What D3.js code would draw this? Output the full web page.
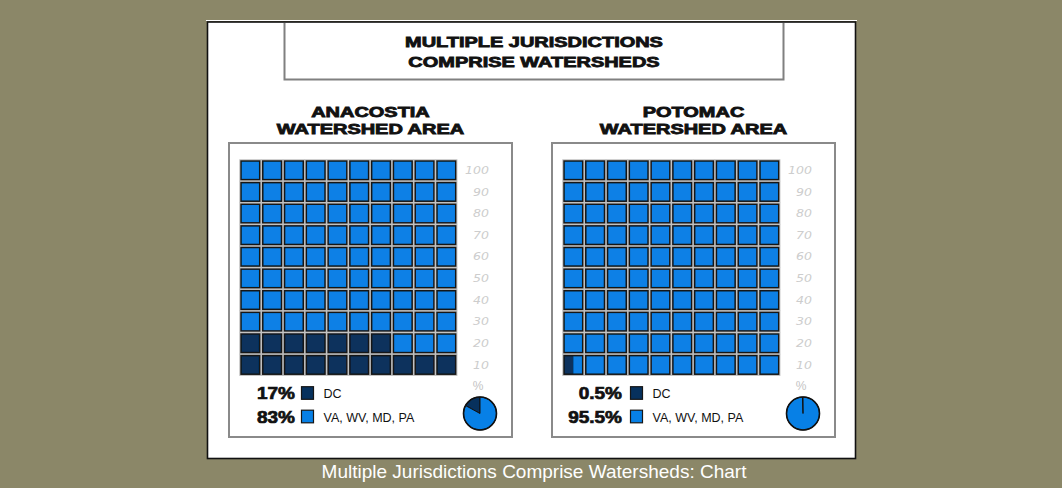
<!DOCTYPE html>
<html>
<head>
<meta charset="utf-8">
<script src="https://cdn.jsdelivr.net/npm/d3@7"></script>
<style>
  html, body { margin: 0; padding: 0; background: #8b8768; }
  svg { display: block; }
</style>
</head>
<body>
<svg id="chart" width="1062" height="488"></svg>
<script>
// Chart text
const titleLines = ["MULTIPLE JURISDICTIONS", "COMPRISE WATERSHEDS"];
const caption = "Multiple Jurisdictions Comprise Watersheds: Chart";

// One entry per watershed panel
const watershedNames = [["ANACOSTIA", "WATERSHED AREA"], ["POTOMAC", "WATERSHED AREA"]];
const dcShare = [17, 0.5];          // percent of area in DC
const otherShare = [83, 95.5];      // percent of area in VA, WV, MD, PA
const dcShareLabels = ["17%", "0.5%"];
const otherShareLabels = ["83%", "95.5%"];
const seriesNames = ["DC", "VA, WV, MD, PA"];
const tickLabels = ["10", "20", "30", "40", "50", "60", "70", "80", "90", "100"];

const colors = { dc: "#07315d", other: "#0780e6" };
const WIDEN = 1.33;   // stretch factor giving the heavy, wide display face

const svg = d3.select("#chart");
const defs = svg.append("defs");
defs.append("filter").attr("id", "soft")
  .append("feGaussianBlur").attr("stdDeviation", 0.35);

// widen bold display text horizontally
function widen(sel, factor) {
  sel.each(function () {
    const w = this.getComputedTextLength();
    d3.select(this).attr("textLength", w * factor).attr("lengthAdjust", "spacingAndGlyphs");
  });
}

// White card
svg.append("rect").attr("x", 206).attr("y", 20).attr("width", 651).attr("height", 1).attr("fill", "#fff");
svg.append("rect")
  .attr("x", 207.5).attr("y", 22).attr("width", 648).attr("height", 436.5)
  .attr("fill", "#fff").attr("stroke", "#111").attr("stroke-width", 1.6);

// Title box (open at top, flush with the card edge)
svg.append("path")
  .attr("d", "M284.5,23 V79.5 H783.5 V23")
  .attr("fill", "none").attr("stroke", "#808080").attr("stroke-width", 2);

const titleG = svg.append("g").attr("font-family", "Liberation Sans, Arial, sans-serif")
  .attr("font-weight", "bold").attr("font-size", 15).attr("fill", "#111")
  .attr("stroke", "#111").attr("stroke-width", 0.85).attr("text-anchor", "middle");
titleG.selectAll("text").data(titleLines).join("text")
  .attr("x", 534).attr("y", (d, i) => 47 + i * 19.5).text(d => d)
  .call(widen, WIDEN);

// Caption below the card
svg.append("text").attr("x", 534).attr("y", 478)
  .attr("text-anchor", "middle").attr("fill", "#fff")
  .attr("font-family", "Liberation Sans, Arial, sans-serif").attr("font-size", 19)
  .text(caption);

const panelX = [229, 552];

watershedNames.forEach((name, p) => {
  const ox = panelX[p];
  const g = svg.append("g");

  // subtitle
  g.append("g").attr("font-family", "Liberation Sans, Arial, sans-serif")
    .attr("font-weight", "bold").attr("font-size", 15).attr("fill", "#111")
    .attr("stroke", "#111").attr("stroke-width", 0.85).attr("text-anchor", "middle")
    .selectAll("text").data(name).join("text")
    .attr("x", ox + 141.5).attr("y", (d, i) => 117 + i * 17).text(d => d)
    .call(widen, WIDEN);

  // panel frame
  g.append("rect").attr("x", ox).attr("y", 143).attr("width", 283).attr("height", 294)
    .attr("fill", "#fff").attr("stroke", "#8a8a8a").attr("stroke-width", 2);

  // 10 x 10 grid of percent squares, filled from bottom-left
  const cols = d3.range(10);
  const x = d3.scaleBand().domain(cols).range([ox + 12, ox + 226.7]).paddingInner(0.14);
  const y = d3.scaleBand().domain(d3.range(9, -1, -1)).range([161, 374.2]).paddingInner(0.14);

  const cells = d3.range(100).map(i => ({
    i, row: Math.floor(i / 10), col: i % 10,
    dark: Math.max(0, Math.min(1, dcShare[p] - i))
  }));

  const grid = g.append("g").attr("filter", "url(#soft)");
  // light halo around each square
  grid.selectAll("rect.halo").data(cells).join("rect").attr("class", "halo")
    .attr("x", d => x(d.col) - 1.2).attr("y", d => y(d.row) - 1.2)
    .attr("width", x.bandwidth() + 2.4).attr("height", y.bandwidth() + 2.4)
    .attr("fill", "none").attr("stroke", "#bdbdbd").attr("stroke-width", 1);
  grid.selectAll("rect.base").data(cells).join("rect").attr("class", "base")
    .attr("x", d => x(d.col)).attr("y", d => y(d.row))
    .attr("width", x.bandwidth()).attr("height", y.bandwidth())
    .attr("fill", d => d.dark >= 1 ? colors.dc : colors.other);
  grid.selectAll("rect.part").data(cells.filter(d => d.dark > 0 && d.dark < 1)).join("rect")
    .attr("class", "part")
    .attr("x", d => x(d.col)).attr("y", d => y(d.row))
    .attr("width", d => x.bandwidth() * d.dark).attr("height", y.bandwidth())
    .attr("fill", colors.dc);
  grid.selectAll("rect.edge").data(cells).join("rect").attr("class", "edge")
    .attr("x", d => x(d.col)).attr("y", d => y(d.row))
    .attr("width", x.bandwidth()).attr("height", y.bandwidth())
    .attr("fill", "none").attr("stroke", "#161616").attr("stroke-width", 1.5);

  // percent tick labels at the right of each row
  g.append("g").attr("font-family", "DejaVu Sans, sans-serif").attr("font-style", "italic")
    .attr("font-size", 10).attr("fill", "#cdcdcd").attr("text-anchor", "end")
    .selectAll("text").data(tickLabels).join("text")
    .attr("x", ox + 260).attr("y", (d, i) => y(i) + y.bandwidth() / 2 + 3.6)
    .text(d => d)
    .each(function () {
      const w = this.getComputedTextLength();
      d3.select(this).attr("textLength", w * 1.25).attr("lengthAdjust", "spacingAndGlyphs");
    });
  g.append("text").attr("x", ox + 249).attr("y", 390)
    .attr("text-anchor", "middle").attr("font-family", "Liberation Sans, Arial, sans-serif")
    .attr("font-size", 12).attr("fill", "#c4c4c4").text("%");

  // legend
  const legend = [
    { label: dcShareLabels[p], name: seriesNames[0], color: colors.dc },
    { label: otherShareLabels[p], name: seriesNames[1], color: colors.other }
  ];
  const lg = g.append("g");
  const rowsY = [393, 416.5];
  lg.selectAll("text.pct").data(legend).join("text").attr("class", "pct")
    .attr("x", ox + (p === 0 ? 66 : 70)).attr("y", (d, i) => rowsY[i] + 6)
    .attr("text-anchor", "end").attr("font-family", "Liberation Sans, Arial, sans-serif")
    .attr("font-weight", "bold").attr("font-size", 16.5).attr("fill", "#111")
    .attr("stroke", "#111").attr("stroke-width", 0.7)
    .text(d => d.label)
    .each(function () {
      const w = this.getComputedTextLength();
      d3.select(this).attr("textLength", w * 1.15).attr("lengthAdjust", "spacingAndGlyphs");
    });
  const sqX = ox + (p === 0 ? 72.5 : 78.5);
  lg.selectAll("rect").data(legend).join("rect")
    .attr("x", sqX).attr("y", (d, i) => rowsY[i] - 6.3)
    .attr("width", 12).attr("height", 12.6)
    .attr("fill", d => d.color).attr("stroke", "#161616").attr("stroke-width", 1.2);
  lg.selectAll("text.nm").data(legend).join("text").attr("class", "nm")
    .attr("x", sqX + 22).attr("y", (d, i) => rowsY[i] + 5)
    .attr("font-family", "Liberation Sans, Arial, sans-serif")
    .attr("font-size", 12.5).attr("fill", "#111")
    .text(d => d.name);

  // pie: DC wedge runs counter-clockwise from twelve o'clock
  const total = dcShare[p] + otherShare[p];
  const a0 = -2 * Math.PI * dcShare[p] / total;
  const pie = d3.pie().sort(null).startAngle(a0).endAngle(a0 + 2 * Math.PI);
  const arc = d3.arc().innerRadius(0).outerRadius(16.5);
  const cx = ox + 251, cy = 413.5;
  const pg = g.append("g").attr("transform", `translate(${cx},${cy})`);
  pg.selectAll("path").data(pie([dcShare[p], otherShare[p]])).join("path")
    .attr("d", arc)
    .attr("fill", (d, i) => i === 0 ? colors.dc : colors.other)
    .attr("stroke", "#111").attr("stroke-width", 1)
    .attr("stroke-linejoin", "round");
  pg.append("circle").attr("r", 16.5).attr("fill", "none")
    .attr("stroke", "#111").attr("stroke-width", 1.6);
});
</script>
</body>
</html>
